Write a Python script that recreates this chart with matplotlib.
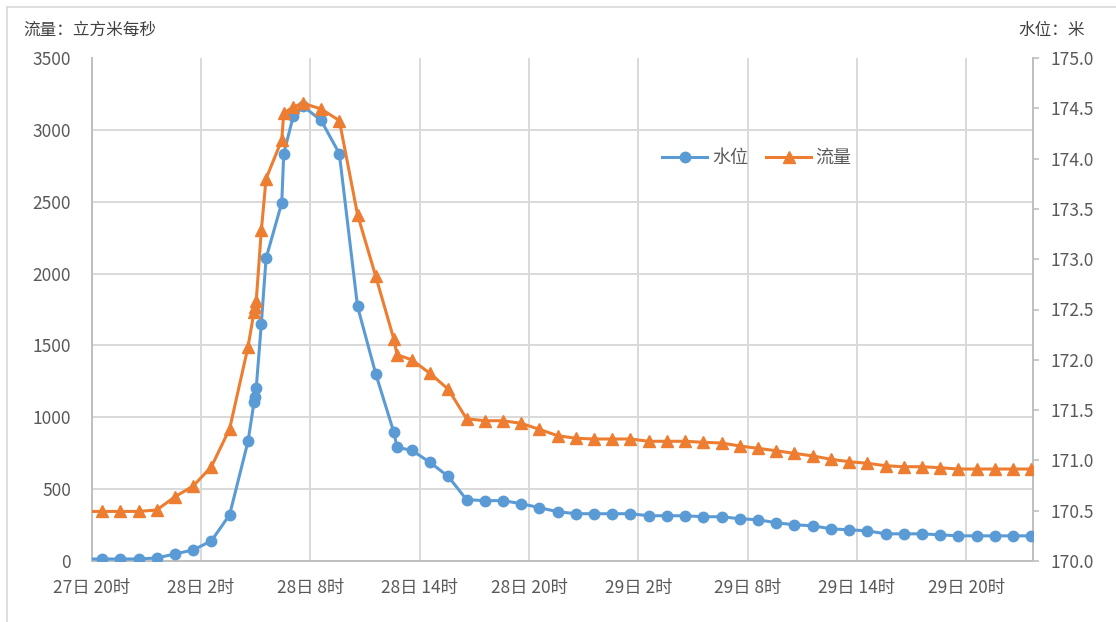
import matplotlib
matplotlib.use("Agg")
import matplotlib.pyplot as plt
from matplotlib.lines import Line2D

plt.rcParams['font.family'] = ['Noto Sans CJK SC', 'DejaVu Sans']

# hours after 27日20时
hours = [-0.43, 0.57, 1.57, 2.57, 3.57, 4.57, 5.57, 6.57, 7.57,
         8.58, 8.91, 8.96, 9.03, 9.31, 9.57, 10.43, 10.54, 11.06, 11.60,
         12.59, 13.59, 14.59, 15.59, 16.58, 16.76,
         17.57, 18.57, 19.57, 20.57, 21.57, 22.57, 23.57, 24.57, 25.57,
         26.57, 27.57, 28.57, 29.57, 30.57, 31.57, 32.57, 33.57, 34.57,
         35.57, 36.57, 37.57, 38.57, 39.57, 40.57, 41.57, 42.57, 43.57,
         44.57, 45.57, 46.57, 47.57, 48.57, 49.57, 50.57, 51.57]

# 水位 (m)
level = [170.02, 170.02, 170.02, 170.02, 170.03, 170.07, 170.11, 170.20, 170.46,
         171.19, 171.58, 171.63, 171.72, 172.36, 173.01, 173.56, 174.05, 174.42, 174.52,
         174.38, 174.05, 172.53, 171.86, 171.28, 171.13,
         171.10, 170.98, 170.84, 170.61, 170.60, 170.60, 170.57, 170.53, 170.49,
         170.47, 170.47, 170.47, 170.47, 170.45, 170.45, 170.45, 170.44, 170.44,
         170.42, 170.41, 170.38, 170.36, 170.35, 170.32, 170.31, 170.30, 170.27,
         170.27, 170.27, 170.26, 170.25, 170.25, 170.25, 170.25, 170.25]

# 流量 (m3/s)
flow = [345, 345, 345, 345, 355, 447, 522, 656, 920,
        1490, 1735, 1770, 1810, 2300, 2660, 2930, 3115, 3160, 3185,
        3145, 3065, 2410, 1980, 1545, 1435,
        1400, 1305, 1195, 990, 976, 976, 958, 916, 872,
        854, 849, 849, 849, 833, 833, 833, 826, 821,
        800, 784, 767, 749, 731, 708, 691, 680, 663,
        656, 656, 649, 640, 640, 640, 640, 640]

tick_hours = [0, 6, 12, 18, 24, 30, 36, 42, 48]
tick_labels = ['27日 20时', '28日 2时', '28日 8时', '28日 14时', '28日 20时',
               '29日 2时', '29日 8时', '29日 14时', '29日 20时']
flow_ticks = [0, 500, 1000, 1500, 2000, 2500, 3000, 3500]
level_ticks = [170.0, 170.5, 171.0, 171.5, 172.0, 172.5,
               173.0, 173.5, 174.0, 174.5, 175.0]

FLOW_MAX = 3500
LV_MIN, LV_MAX = 170, 175

BLUE = '#5B9BD5'
ORANGE = '#ED7D31'
GRID = '#D9D9D9'
TXT = '#595959'

fig = plt.figure(figsize=(11.16, 6.22), dpi=100)
fig.patch.set_facecolor('white')
W, H = 1116, 622
ax_lv = fig.add_axes([91.7 / W, 1 - 561 / H, (1033 - 91.7) / W, (561 - 58) / H])
ax_fl = ax_lv.twinx()

# level axis (bottom layer, carries grid, right ticks)
ax_lv.plot(hours, level, color=BLUE, lw=2.2, marker='o', ms=7.5, zorder=3)
ax_lv.set_xlim(0, 51.66)
ax_lv.set_ylim(LV_MIN, LV_MAX)
ax_lv.set_yticks(level_ticks)
ax_lv.set_yticklabels(['%.1f' % v for v in level_ticks])
# horizontal grid follows the flow ticks (same vertical span on both axes)
ax_lv.set_yticks([LV_MIN + q / FLOW_MAX * (LV_MAX - LV_MIN) for q in flow_ticks],
                 minor=True)
ax_lv.set_xticks(tick_hours)
ax_lv.set_xticklabels(tick_labels)
ax_lv.yaxis.tick_right()
ax_lv.grid(True, axis='x', color=GRID, lw=1.4)
ax_lv.grid(True, axis='y', which='minor', color=GRID, lw=1.4)
ax_lv.set_axisbelow(True)
ax_lv.tick_params(axis='y', which='major', length=4.5, width=1.2, color='#BFBFBF',
                  labelcolor=TXT, labelsize=12.5, pad=8)
ax_lv.tick_params(axis='y', which='minor', length=0)
ax_lv.tick_params(axis='x', length=0, labelcolor=TXT, labelsize=12.5, pad=13)
for s in ['left', 'bottom', 'right']:
    ax_lv.spines[s].set_color('#BFBFBF')
    ax_lv.spines[s].set_linewidth(1.4)
ax_lv.spines['top'].set_visible(False)

# flow axis (top layer, left ticks)
ax_fl.plot(hours, flow, color=ORANGE, lw=2.2, marker='^', ms=8, zorder=3)
ax_fl.set_ylim(0, FLOW_MAX)
ax_fl.set_yticks(flow_ticks)
ax_fl.yaxis.tick_left()
ax_fl.tick_params(axis='y', length=0, labelcolor=TXT, labelsize=12.5, pad=15)
for s in ax_fl.spines.values():
    s.set_visible(False)

handles = [Line2D([], [], color=BLUE, lw=2.2, marker='o', ms=7.5),
           Line2D([], [], color=ORANGE, lw=2.2, marker='^', ms=8)]
fig.legend(handles, ['水位', '流量'], loc='center', ncol=2, frameon=False,
           bbox_to_anchor=(757 / W, 1 - 158 / H), bbox_transform=fig.transFigure,
           fontsize=13, labelcolor=TXT, handlelength=2.5, handletextpad=0.25,
           columnspacing=1.0)

fig.text(23 / W, 1 - 30 / H, '流量：立方米每秒', fontsize=12, color='#404040',
         ha='left', va='center')
fig.text(1085 / W, 1 - 30 / H, '水位：米', fontsize=12, color='#404040',
         ha='right', va='center')

# outer chart border
fig.add_artist(Line2D([7 / W, 1], [1 - 7 / H, 1 - 7 / H], color=GRID, lw=1.2))
fig.add_artist(Line2D([7 / W, 7 / W], [0, 1 - 7 / H], color=GRID, lw=1.2))

fig.savefig('out.png', dpi=100, facecolor='white')
